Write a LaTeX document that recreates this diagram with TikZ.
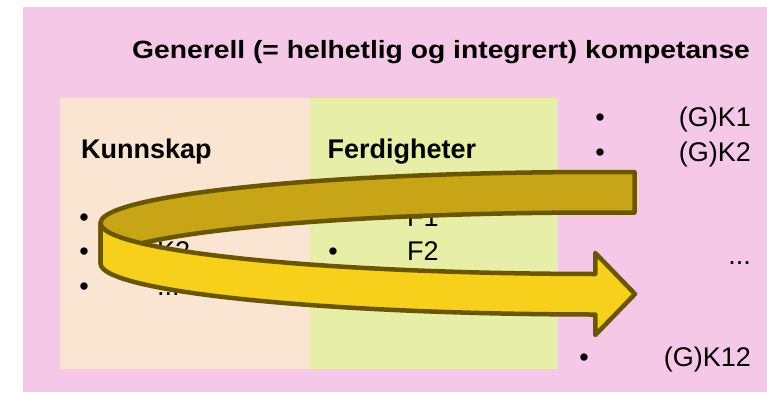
\documentclass[tikz,border=0pt]{standalone}
\usepackage{fontspec}
\setmainfont{Liberation Sans}
\newfontfamily\titlefont[FakeStretch=1.13]{Liberation Sans}
\usepackage{xcolor}
\usepackage{tikz}
\usetikzlibrary{positioning}
\definecolor{panelpink}{HTML}{F6C8E8}
\definecolor{kpeach}{HTML}{FAE5D2}
\definecolor{fgreen}{HTML}{E6EEA8}
\definecolor{ringback}{HTML}{C7A516}
\definecolor{ringfront}{HTML}{F6D01A}
\definecolor{ringline}{HTML}{6B5600}

\begin{document}
\begin{tikzpicture}[
  x=1pt, y=1pt,
  panel/.style={inner sep=0pt, outer sep=0pt, anchor=north west},
  txt/.style={inner sep=0pt, font=\fontsize{27}{32}\selectfont},
  head/.style={txt, font=\fontsize{27}{32}\selectfont\bfseries, anchor=base west},
  item/.style={txt, anchor=base west},
  ritem/.style={txt, anchor=base east},
  dot/.style={txt, anchor=base},
  ring/.style={draw=ringline, line width=4.5pt, line join=round}
]
\useasboundingbox (0,0) rectangle (767,-392);
% ----- panels -----
\node[panel, fill=panelpink, minimum width=744, minimum height=385] (comp) at (23,-7) {};
\node[panel, fill=kpeach, minimum width=250, minimum height=271.3] (kbox) at (60,-97.7) {};
\node[panel, fill=fgreen, minimum width=247.7, minimum height=271.3] (fbox) at (kbox.north east) {};
% ----- headings -----
\node[inner sep=0pt, anchor=base west, font=\fontsize{25}{30}\titlefont\bfseries] (title) at (132,-58)
  {Generell (= helhetlig og integrert) kompetanse};
\node[head] (kunn) at (81,-158.3) {Kunnskap};
\node[head] (ferd) at (327.5,-158.3) {Ferdigheter};
% ----- lists -----
\foreach \y [count=\i] in {226, 260.5, 295}{
  \node[dot] (kd\i) at (84,-\y) {•};
}
\node[item] (kt1) at (157,-226) {K1};
\node[item] (kt2) at (157,-260.5) {K2};
\node[item] (kt3) at (157,-295) {...};
\foreach \y/\t [count=\i] in {226/F1, 260.5/F2}{
  \node[dot] (fd\i) at (333,-\y) {•};
  \node[item] (ft\i) at (407,-\y) {\t};
}
\node[dot] (gd1) at (600,-126.7) {•};
\node[ritem] (gk1) at (751,-126.7) {(G)K1};
\node[dot] (gd2) at (600,-161.2) {•};
\node[ritem] (gk2) at (751,-161.2) {(G)K2};
\node[ritem] (gdots) at (751,-264) {...};
\node[dot] (gd12) at (584,-366) {•};
\node[ritem] (gk12) at (751,-366) {(G)K12};
% ----- ring arrow -----
\coordinate (rc) at (600.5,-223);
\draw[ring, fill=ringback] ([shift={(86.1:500 and 51)}]rc)
  arc[start angle=86.1, end angle=180, x radius=500, y radius=51] -- ++(0,-40.5)
  arc[start angle=180, end angle=86.1, x radius=500, y radius=51] -- cycle;
\draw[ring, fill=ringfront] ([shift={(180:500 and 51)}]rc)
  arc[start angle=180, end angle=269.4, x radius=500, y radius=51] -- ++(0,21)
  -- (635,-294) -- (595.3,-335) -- (595.3,-314.5)
  arc[start angle=269.4, end angle=180, x radius=500, y radius=51] -- cycle;
\end{tikzpicture}
\end{document}
